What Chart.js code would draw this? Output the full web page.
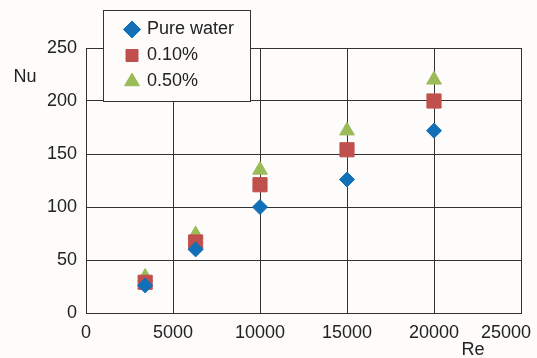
<!DOCTYPE html>
<html>
<head>
<meta charset="utf-8">
<script src="https://cdn.jsdelivr.net/npm/chart.js@4.4.1/dist/chart.umd.min.js"></script>
<style>
  html, body { margin: 0; padding: 0; background: #fdfcfa; }
  #wrap { width: 537px; height: 358px; }
</style>
</head>
<body>
<div id="wrap"><canvas id="c" width="537" height="358"></canvas></div>
<script>
// ---- data ----
const reValues = [3400, 6300, 10000, 15000, 20000];
const pureWater = [26, 60, 100, 126, 172];
const conc010 = [29, 67, 121, 154, 200];
const conc050 = [34, 74, 135, 172, 220];
const seriesNames = ['Pure water', '0.10%', '0.50%'];
const xTickValues = [0, 5000, 10000, 15000, 20000, 25000];
const yTickValues = [0, 50, 100, 150, 200, 250];
const xTitle = 'Re';
const yTitle = 'Nu';

const FONT = "'Liberation Sans', Arial, sans-serif";
const TEXT = '#222222';
const GRID = '#333333';

function pts(ys) { return reValues.map((x, i) => ({ x: x, y: ys[i] })); }

const frameAndTitles = {
  id: 'frameAndTitles',
  beforeDraw(chart) {
    const lg = chart.legend;
    if (lg) {
      lg.left = 118; lg.top = 12.5; lg.right = 248; lg.bottom = 100;
      lg.width = lg.right - lg.left; lg.height = lg.bottom - lg.top;
    }
  },
  afterDatasetsDraw(chart) {
    const ctx = chart.ctx;
    ctx.save();
    ctx.fillStyle = '#fdfcfa';
    ctx.fillRect(103.5, 10.5, 147, 91);
    ctx.strokeStyle = GRID;
    ctx.lineWidth = 1;
    ctx.strokeRect(103.5, 10.5, 147, 91);
    ctx.restore();
    chart.legend.draw();
    ctx.save();
    ctx.fillStyle = TEXT;
    ctx.font = '18px ' + FONT;
    ctx.textAlign = 'center';
    ctx.textBaseline = 'middle';
    ctx.fillText(yTitle, 25, 77);
    ctx.fillText(xTitle, 473, 350);
    ctx.restore();
  }
};

new Chart(document.getElementById('c'), {
  type: 'scatter',
  data: {
    datasets: [
      { label: seriesNames[0], data: pts(pureWater), pointStyle: 'rectRot', pointRadius: 7.5, pointHoverRadius: 7.5,
        backgroundColor: '#1270b8', borderColor: '#1270b8', borderWidth: 1 },
      { label: seriesNames[1], data: pts(conc010), pointStyle: 'rect', pointRadius: 10, pointHoverRadius: 10,
        backgroundColor: '#c0504d', borderColor: '#c0504d', borderWidth: 1 },
      { label: seriesNames[2], data: pts(conc050), pointStyle: 'triangle', pointRadius: 8.5, pointHoverRadius: 8.5,
        backgroundColor: '#9bbb59', borderColor: '#9bbb59', borderWidth: 1 }
    ]
  },
  options: {
    responsive: false,
    animation: false,
    events: [],
    layout: { padding: { left: 0, top: 48, right: 16, bottom: 0 } },
    plugins: {
      tooltip: { enabled: false },
      legend: {
        position: 'chartArea',
        align: 'start',
        labels: {
          usePointStyle: true,
          boxWidth: 12,
          boxHeight: 12,
          padding: 8,
          color: TEXT,
          font: { family: FONT, size: 18 }
        }
      }
    },
    scales: {
      x: {
        type: 'linear',
        min: xTickValues[0],
        max: xTickValues[xTickValues.length - 1],
        afterBuildTicks(scale) { scale.ticks = xTickValues.map(v => ({ value: v })); },
        ticks: {
          color: TEXT,
          font: { family: FONT, size: 18 },
          padding: 9,
          maxRotation: 0,
          // last label kept inside the canvas (shifted left like the original)
          callback: (v, i, arr) => (i === arr.length - 1 ? String(v) + '      ' : String(v))
        },
        grid: { color: GRID, lineWidth: 1, drawTicks: false },
        border: { color: GRID, width: 1 },
        afterFit(scale) { scale.height = 45; scale.paddingLeft = 0; scale.paddingRight = 0; }
      },
      y: {
        type: 'linear',
        min: yTickValues[0],
        max: yTickValues[yTickValues.length - 1],
        afterBuildTicks(scale) { scale.ticks = yTickValues.map(v => ({ value: v })); },
        ticks: {
          color: TEXT,
          font: { family: FONT, size: 18 },
          padding: 9,
          callback: v => String(v)
        },
        grid: { color: GRID, lineWidth: 1, drawTicks: false },
        border: { color: GRID, width: 1 },
        afterFit(scale) { scale.width = 86; scale.paddingTop = 0; scale.paddingBottom = 0; }
      }
    }
  },
  plugins: [frameAndTitles]
});
</script>
</body>
</html>
